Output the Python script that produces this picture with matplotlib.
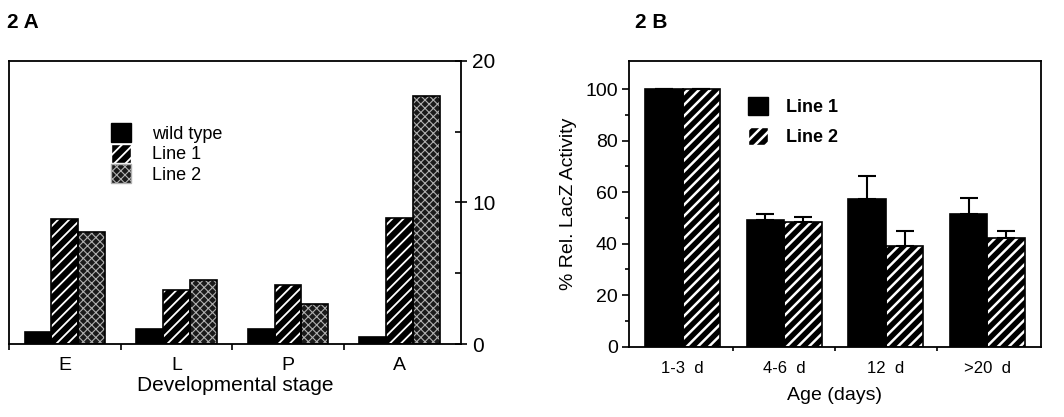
import numpy as np
import matplotlib
matplotlib.use("Agg")
import matplotlib.pyplot as plt
from matplotlib.patches import Patch

plt.rcParams['font.family'] = ['Liberation Sans', 'DejaVu Sans']
plt.rcParams['hatch.linewidth'] = 1.4

# panel A data (developmental stage)
stages = ['E', 'L', 'P', 'A']
wild_type = [0.85, 1.05, 1.05, 0.5]
line1_a = [8.8, 3.8, 4.15, 8.9]
line2_a = [7.9, 4.5, 2.8, 17.5]

# panel B data (age)
ages = ['1-3  d', '4-6  d', '12  d', '>20  d']
line1_b = [100, 49.2, 57.2, 51.4]
line2_b = [100, 48.3, 39.2, 42.4]
line1_b_err = [0, 2.3, 9.0, 6.3]
line2_b_err = [0, 2.1, 5.8, 2.6]


def set_hlw(artists, lw):
    for a in artists:
        if hasattr(a, 'set_hatch_linewidth'):
            a.set_hatch_linewidth(lw)


def hatched_bars(ax, x, h, w, face, hatch, hcolor, hlw):
    # fill + hatch drawn in the hatch colour, then a plain black outline on top
    bars = ax.bar(x, h, w, color=face, edgecolor=hcolor, hatch=hatch, linewidth=0, zorder=2)
    set_hlw(bars, hlw)
    ax.bar(x, h, w, fill=False, edgecolor='black', linewidth=1.2, zorder=3)


fig = plt.figure(figsize=(10.64, 4.17), dpi=100)

# ---------------- 2 A ----------------
axA = fig.add_axes([0.0085, 0.175, 0.4248, 0.679])
x = np.arange(len(stages))
w = 0.24
axA.bar(x - w, wild_type, w, color='black', edgecolor='black', linewidth=1.2, zorder=3)
hatched_bars(axA, x, line1_a, w, 'black', '///', 'white', 1.3)
hatched_bars(axA, x + w, line2_a, w, '#1a1a1a', 'xxxx', '#b0b0b0', 0.8)
axA.set_xlim(-0.5, 3.55)
axA.set_ylim(0, 20)
axA.yaxis.tick_right()
axA.set_yticks([0, 10, 20])
axA.set_yticks([5, 15], minor=True)
axA.tick_params(axis='y', which='major', direction='inout', length=8, width=1.2,
                labelsize=15, pad=4)
axA.tick_params(axis='y', which='minor', direction='in', length=4, width=1.2)
axA.set_xticks([-0.5, 0.5, 1.5, 2.5])
axA.set_xticklabels([])
axA.set_xticks(x, minor=True)
axA.set_xticklabels(stages, minor=True)
axA.tick_params(axis='x', which='major', direction='out', length=4, width=1.2)
axA.tick_params(axis='x', which='minor', length=0, labelsize=14, pad=9)
axA.set_xlabel('Developmental stage', fontsize=15, labelpad=2)
for s in axA.spines.values():
    s.set_linewidth(1.3)
hA = [Patch(facecolor='black', edgecolor='black'),
      Patch(facecolor='black', edgecolor='white', hatch='///'),
      Patch(facecolor='#1a1a1a', edgecolor='#b0b0b0', hatch='xxxx')]
legA = axA.legend(handles=hA, labels=['wild type', 'Line 1', 'Line 2'],
                  loc='upper left', bbox_to_anchor=(0.225, 0.78), frameon=False,
                  fontsize=13, borderpad=0, borderaxespad=0, handlelength=1.1,
                  handleheight=1.25, handletextpad=1.2, labelspacing=0.05)
set_hlw(legA.get_patches()[1:2], 1.3)
set_hlw(legA.get_patches()[2:], 0.8)
fig.text(0.007, 0.945, '2 A', fontsize=15, fontweight='bold', va='center')

# ---------------- 2 B ----------------
axB = fig.add_axes([0.591, 0.1686, 0.3875, 0.6853])
xb = np.arange(len(ages))
wb = 0.37
axB.bar(xb - wb / 2, line1_b, wb, color='black', edgecolor='black', linewidth=1.2, zorder=3)
hatched_bars(axB, xb + wb / 2, line2_b, wb, 'black', '///', 'white', 1.8)
axB.errorbar(xb - wb / 2, line1_b, yerr=[np.zeros(len(xb)), line1_b_err], fmt='none',
             ecolor='black', elinewidth=1.5, capsize=6.5, capthick=1.5, zorder=4)
axB.errorbar(xb + wb / 2, line2_b, yerr=[np.zeros(len(xb)), line2_b_err], fmt='none',
             ecolor='black', elinewidth=1.5, capsize=6.5, capthick=1.5, zorder=4)
axB.set_xlim(-0.53, 3.53)
axB.set_ylim(0, 111)
axB.set_yticks(np.arange(0, 101, 20))
axB.set_yticks(np.arange(10, 100, 20), minor=True)
axB.tick_params(axis='y', which='major', direction='out', length=5, width=1.2,
                labelsize=14, pad=3)
axB.tick_params(axis='y', which='minor', direction='out', length=3, width=1.2)
axB.set_xticks([0.5, 1.5, 2.5])
axB.set_xticklabels([])
axB.set_xticks(xb, minor=True)
axB.set_xticklabels(ages, minor=True)
axB.tick_params(axis='x', which='major', direction='out', length=3, width=1.2)
axB.tick_params(axis='x', which='minor', length=0, labelsize=12, pad=10)
axB.set_xlabel('Age (days)', fontsize=14, labelpad=8)
axB.set_ylabel('% Rel. LacZ Activity', fontsize=14, labelpad=6)
for s in axB.spines.values():
    s.set_linewidth(1.3)
hB = [Patch(facecolor='black', edgecolor='black'),
      Patch(facecolor='black', edgecolor='white', hatch='///')]
legB = axB.legend(handles=hB, labels=['Line 1', 'Line 2'],
                  loc='upper left', bbox_to_anchor=(0.29, 0.875), frameon=False,
                  fontsize=13, borderpad=0, borderaxespad=0, handlelength=1.1,
                  handleheight=1.2, handletextpad=1.0, labelspacing=0.6)
set_hlw(legB.get_patches()[1:], 1.8)
for t in legB.get_texts():
    t.set_fontweight('bold')
fig.text(0.597, 0.945, '2 B', fontsize=15, fontweight='bold', va='center')

fig.savefig('out.png', dpi=100)
